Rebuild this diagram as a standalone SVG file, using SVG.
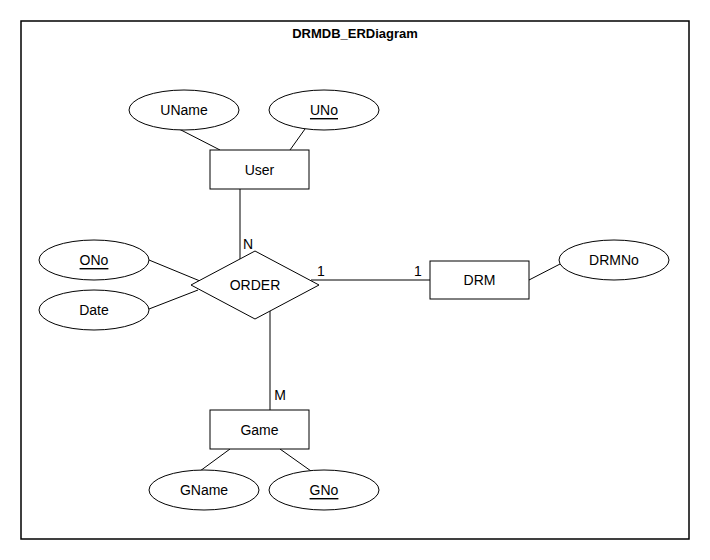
<svg xmlns="http://www.w3.org/2000/svg" width="710" height="560" viewBox="0 0 710 560">
<style>
.shape{fill:#fff;stroke:#000;stroke-width:1}
.ln{stroke:#000;stroke-width:1;fill:none}
.t{font-family:"Liberation Sans",Arial,sans-serif;font-size:14px;fill:#000;text-anchor:middle;dominant-baseline:central}
.u{text-decoration:underline}
.title{font-family:"Liberation Sans",Arial,sans-serif;font-size:13px;font-weight:bold;fill:#000;text-anchor:middle;dominant-baseline:central}
</style>
<rect x="0" y="0" width="710" height="560" fill="#fff"/>
<rect x="21" y="21" width="668" height="518" fill="none" stroke="#000" stroke-width="1.5"/>
<text class="title" x="355" y="33">DRMDB_ERDiagram</text>
<g id="connectors">
<line class="ln" x1="179" y1="129" x2="220" y2="150"/>
<line class="ln" x1="305" y1="129" x2="290" y2="150"/>
<line class="ln" x1="240" y1="189" x2="240" y2="259"/>
<line class="ln" x1="270" y1="311" x2="270" y2="410"/>
<line class="ln" x1="311" y1="280" x2="430" y2="280"/>
<line class="ln" x1="529" y1="280" x2="562" y2="263"/>
<line class="ln" x1="149" y1="260" x2="200" y2="281"/>
<line class="ln" x1="149" y1="309" x2="198" y2="290"/>
<line class="ln" x1="230" y1="449" x2="200" y2="471"/>
<line class="ln" x1="280" y1="449" x2="311" y2="471"/>
<text class="t" x="248" y="244">N</text>
<text class="t" x="280" y="395">M</text>
<text class="t" x="321" y="271">1</text>
<text class="t" x="418" y="271">1</text>
</g>
<g id="User"><rect class="shape" x="210" y="150" width="99" height="39"/><text class="t" x="259.5" y="170">User</text></g>
<g id="UName"><ellipse class="shape" cx="184" cy="110" rx="55" ry="20"/><text class="t" x="184" y="110">UName</text></g>
<g id="UNo"><ellipse class="shape" cx="324" cy="110" rx="55" ry="20"/><text class="t u" x="324" y="110">UNo</text></g>
<g id="ORDER"><polygon class="shape" points="191,285 255,251 319,285 255,319"/><text class="t" x="255" y="285">ORDER</text></g>
<g id="DRM"><rect class="shape" x="430" y="261" width="99" height="38"/><text class="t" x="479.5" y="280">DRM</text></g>
<g id="DRMNo"><ellipse class="shape" cx="614" cy="260" rx="55" ry="20"/><text class="t" x="614" y="260">DRMNo</text></g>
<g id="ONo"><ellipse class="shape" cx="94" cy="260" rx="55" ry="20"/><text class="t u" x="94" y="260">ONo</text></g>
<g id="Date"><ellipse class="shape" cx="94" cy="310" rx="55" ry="20"/><text class="t" x="94" y="310">Date</text></g>
<g id="Game"><rect class="shape" x="210" y="410" width="99" height="39"/><text class="t" x="259.5" y="430">Game</text></g>
<g id="GName"><ellipse class="shape" cx="204" cy="490" rx="55" ry="20"/><text class="t" x="204" y="490">GName</text></g>
<g id="GNo"><ellipse class="shape" cx="324" cy="490" rx="55" ry="20"/><text class="t u" x="324" y="490">GNo</text></g>
</svg>
